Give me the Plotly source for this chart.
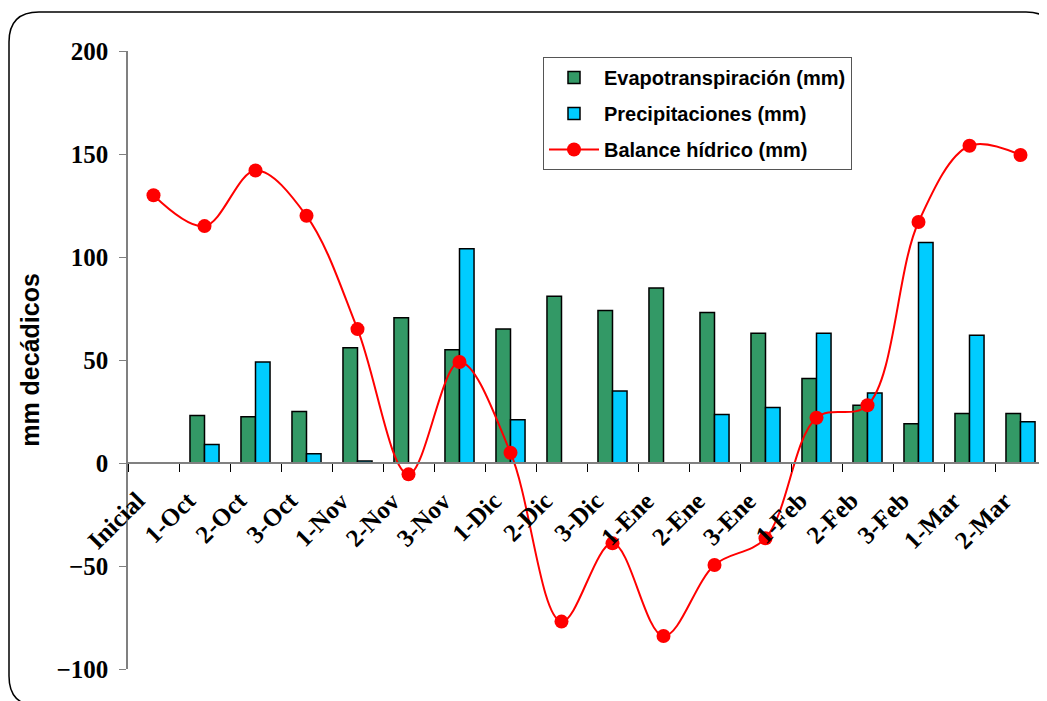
import plotly.graph_objects as go

categories = ["Inicial", "1-Oct", "2-Oct", "3-Oct", "1-Nov", "2-Nov", "3-Nov", "1-Dic",
              "2-Dic", "3-Dic", "1-Ene", "2-Ene", "3-Ene", "1-Feb", "2-Feb", "3-Feb",
              "1-Mar", "2-Mar"]
evapotranspiracion = [0, 23, 22.5, 25, 56, 70.5, 55, 65, 81, 74, 85, 73, 63, 41, 28, 19, 24, 24]
precipitaciones = [0, 9, 49, 4.5, 1, 0, 104, 21, 0, 35, 0, 23.5, 27, 63, 34, 107, 62, 20]
balance = [130, 115, 142, 120, 65, -5.5, 49, 5, -77, -39, -84, -49.5, -36.5, 22, 28, 117, 154, 149.5]
y_ticks = [-100, -50, 0, 50, 100, 150, 200]

OFF = 8  # page body margin
W, H = 1047, 701
L, R, T, B = 128 - OFF, 1046 - OFF, 51 - OFF, 669 - OFF

fig = go.Figure()
fig.add_trace(go.Bar(x=categories, y=evapotranspiracion, name="Evapotranspiración (mm)",
                     marker=dict(color="#339966", line=dict(color="black", width=1.5)),
                     legendgroup="a"))
fig.add_trace(go.Bar(x=categories, y=precipitaciones, name="Precipitaciones (mm)",
                     marker=dict(color="#00CCFF", line=dict(color="black", width=1.5)),
                     legendgroup="b"))
fig.add_trace(go.Scatter(x=categories, y=balance, name="Balance hídrico (mm)",
                         mode="lines+markers",
                         line=dict(color="#FF0000", width=2, shape="spline", smoothing=1.0),
                         marker=dict(color="#FF0000", size=14),
                         legendgroup="c"))

def xp(px):
    return (px - OFF - L) / (R - L)

def yp(py):
    return (B - (py - OFF)) / (B - T)

x0, y0, x1, y1, r = 9, 12, 1056, 706, 30
path = (f"M {xp(x0+r)},{yp(y0)} L {xp(x1-r)},{yp(y0)} Q {xp(x1)},{yp(y0)} {xp(x1)},{yp(y0+r)} "
        f"L {xp(x1)},{yp(y1-r)} Q {xp(x1)},{yp(y1)} {xp(x1-r)},{yp(y1)} "
        f"L {xp(x0+r)},{yp(y1)} Q {xp(x0)},{yp(y1)} {xp(x0)},{yp(y1-r)} "
        f"L {xp(x0)},{yp(y0+r)} Q {xp(x0)},{yp(y0)} {xp(x0+r)},{yp(y0)} Z")

label_font = dict(family="Liberation Serif", size=25, color="black", weight="bold")
annotations = [dict(x=c, y=0, xref="x", yref="y", text=c, showarrow=False,
                    textangle=-45, xanchor="right", yanchor="top",
                    xshift=-1, yshift=-21, font=label_font)
               for c in categories]

fig.update_layout(
    width=W, height=H,
    margin=dict(l=L, r=W - R, t=T, b=H - B),
    paper_bgcolor="white", plot_bgcolor="white",
    barmode="group", bargap=0.43, bargroupgap=0,
    showlegend=True,
    legend=dict(x=xp(543), y=yp(57), xanchor="left", yanchor="top",
                bordercolor="#555555", borderwidth=1, bgcolor="white",
                font=dict(family="Liberation Sans", size=20, color="black", weight="bold"),
                traceorder="grouped", tracegroupgap=7, itemwidth=50),
    xaxis=dict(type="category", anchor="free", position=1/3,
               showline=True, linecolor="#808080", linewidth=1.5,
               ticks="outside", tickson="boundaries", ticklen=8, tickcolor="black", tickwidth=1,
               showticklabels=False,
               showgrid=False, zeroline=False, range=[-0.5, 17.5]),
    yaxis=dict(range=[-100, 200], tickvals=y_ticks, showline=True, linecolor="#808080",
               linewidth=1.5, ticks="outside", ticklen=7, tickcolor="#808080",
               ticklabelstandoff=6,
               tickfont=dict(family="Liberation Serif", size=25, color="black", weight="bold"),
               showgrid=False, zeroline=False,
               title=dict(text="mm decádicos", standoff=10,
                          font=dict(family="Liberation Sans", size=25, color="black", weight="bold"))),
    annotations=annotations,
    shapes=[dict(type="path", xref="paper", yref="paper", path=path,
                 line=dict(color="black", width=1.5), layer="below")],
)

fig.write_html("out.html")
